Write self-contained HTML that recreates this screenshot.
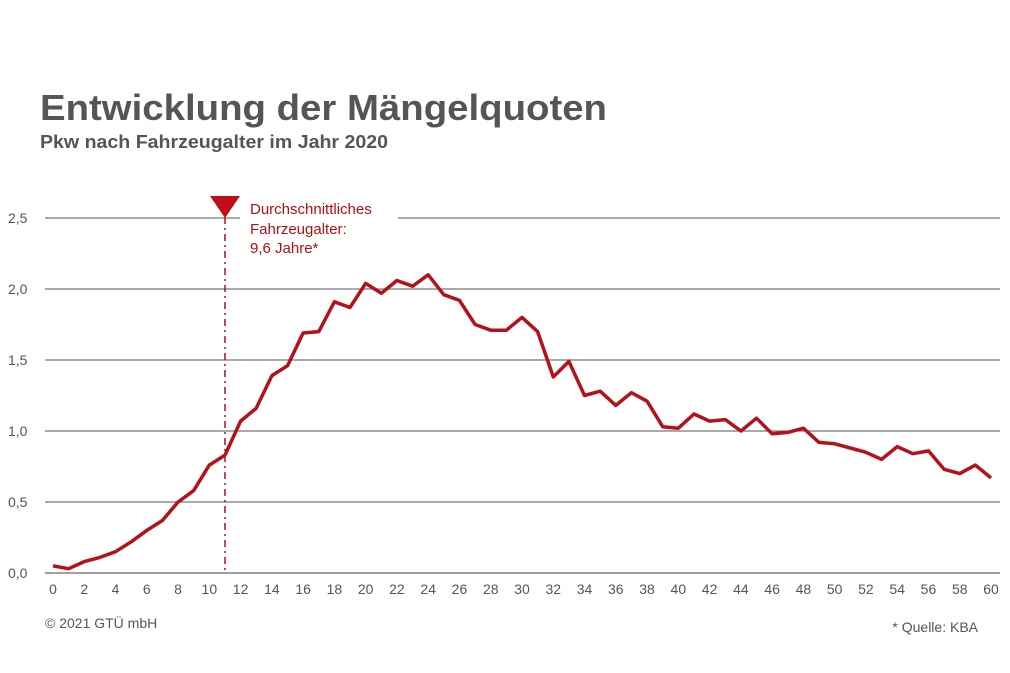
<!DOCTYPE html>
<html><head><meta charset="utf-8">
<style>
body{margin:0;background:#fff;width:1010px;height:673px;overflow:hidden;font-family:"Liberation Sans",sans-serif}
svg{display:block}
</style></head><body>
<svg width="1010" height="673">
<text x="40" y="120" font-size="36" font-weight="bold" fill="#555" textLength="567" lengthAdjust="spacingAndGlyphs">Entwicklung der Mängelquoten</text>
<text x="40" y="148" font-size="18" font-weight="bold" fill="#555" textLength="348" lengthAdjust="spacingAndGlyphs">Pkw nach Fahrzeugalter im Jahr 2020</text>
<g id="grid"></g><g id="ylab"></g><g id="xlab"></g>
<line x1="225" y1="200" x2="225" y2="573" stroke="#b00f14" stroke-width="1.5" stroke-dasharray="7,4,2,4"/>
<polygon points="210,196 240,196 225,218" fill="#c00f16"/>
<rect x="240" y="205" width="158" height="25" fill="#fff"/>
<g font-size="15" fill="#b00f14">
<text x="250" y="214">Durchschnittliches</text><text x="250" y="234">Fahrzeugalter:</text><text x="250" y="253">9,6 Jahre*</text></g>
<path id="line" fill="none" stroke="#b3121a" stroke-width="3.5" stroke-linejoin="round"/>
<text x="45" y="628" font-size="14" fill="#555">© 2021 GTÜ mbH</text>
<text x="978" y="632" font-size="14" fill="#555" text-anchor="end">* Quelle: KBA</text>
</svg>
<script>
const ages=[];for(let i=0;i<=60;i++)ages.push(i);
const rates=[0.05,0.03,0.08,0.11,0.15,0.22,0.30,0.37,0.50,0.58,0.76,0.83,1.07,1.16,1.39,1.46,1.69,1.70,1.91,1.87,2.04,1.97,2.06,2.02,2.10,1.96,1.92,1.75,1.71,1.71,1.80,1.70,1.38,1.49,1.25,1.28,1.18,1.27,1.21,1.03,1.02,1.12,1.07,1.08,1.00,1.09,0.98,0.99,1.02,0.92,0.91,0.88,0.85,0.80,0.89,0.84,0.86,0.73,0.70,0.76,0.67];
const yTicks=[0,0.5,1,1.5,2,2.5];
const xTicks=[0,2,4,6,8,10,12,14,16,18,20,22,24,26,28,30,32,34,36,38,40,42,44,46,48,50,52,54,56,58,60];
const X=v=>53+v*(938/60), Y=v=>573-v*142;
const ns="http://www.w3.org/2000/svg";
const g=document.getElementById('grid'),yl=document.getElementById('ylab'),xl=document.getElementById('xlab');
yTicks.forEach(t=>{
 const l=document.createElementNS(ns,'line');
 
 
 l.setAttribute('x1',45);l.setAttribute('x2',1000);l.setAttribute('y1',Y(t));l.setAttribute('y2',Y(t));
 l.setAttribute('stroke',t===0?'#666':'#777');l.setAttribute('stroke-width',1.2);g.appendChild(l);
 const s=document.createElementNS(ns,'text');
 
 
 s.setAttribute('x',8);s.setAttribute('y',Y(t)+5);s.setAttribute('font-size',14);s.setAttribute('fill','#555');
 s.textContent=t.toFixed(1).replace('.',',');yl.appendChild(s);
});
xTicks.forEach(t=>{
 const s=document.createElementNS(ns,'text');
 
 
 s.setAttribute('x',X(t));s.setAttribute('y',594);s.setAttribute('font-size',14);s.setAttribute('fill','#555');s.setAttribute('text-anchor','middle');
 s.textContent=t;xl.appendChild(s);
});
document.getElementById('line').setAttribute('d',rates.map((r,i)=>(i?'L':'M')+X(ages[i]).toFixed(1)+','+Y(r).toFixed(1)).join(''));
</script>
</body></html>
